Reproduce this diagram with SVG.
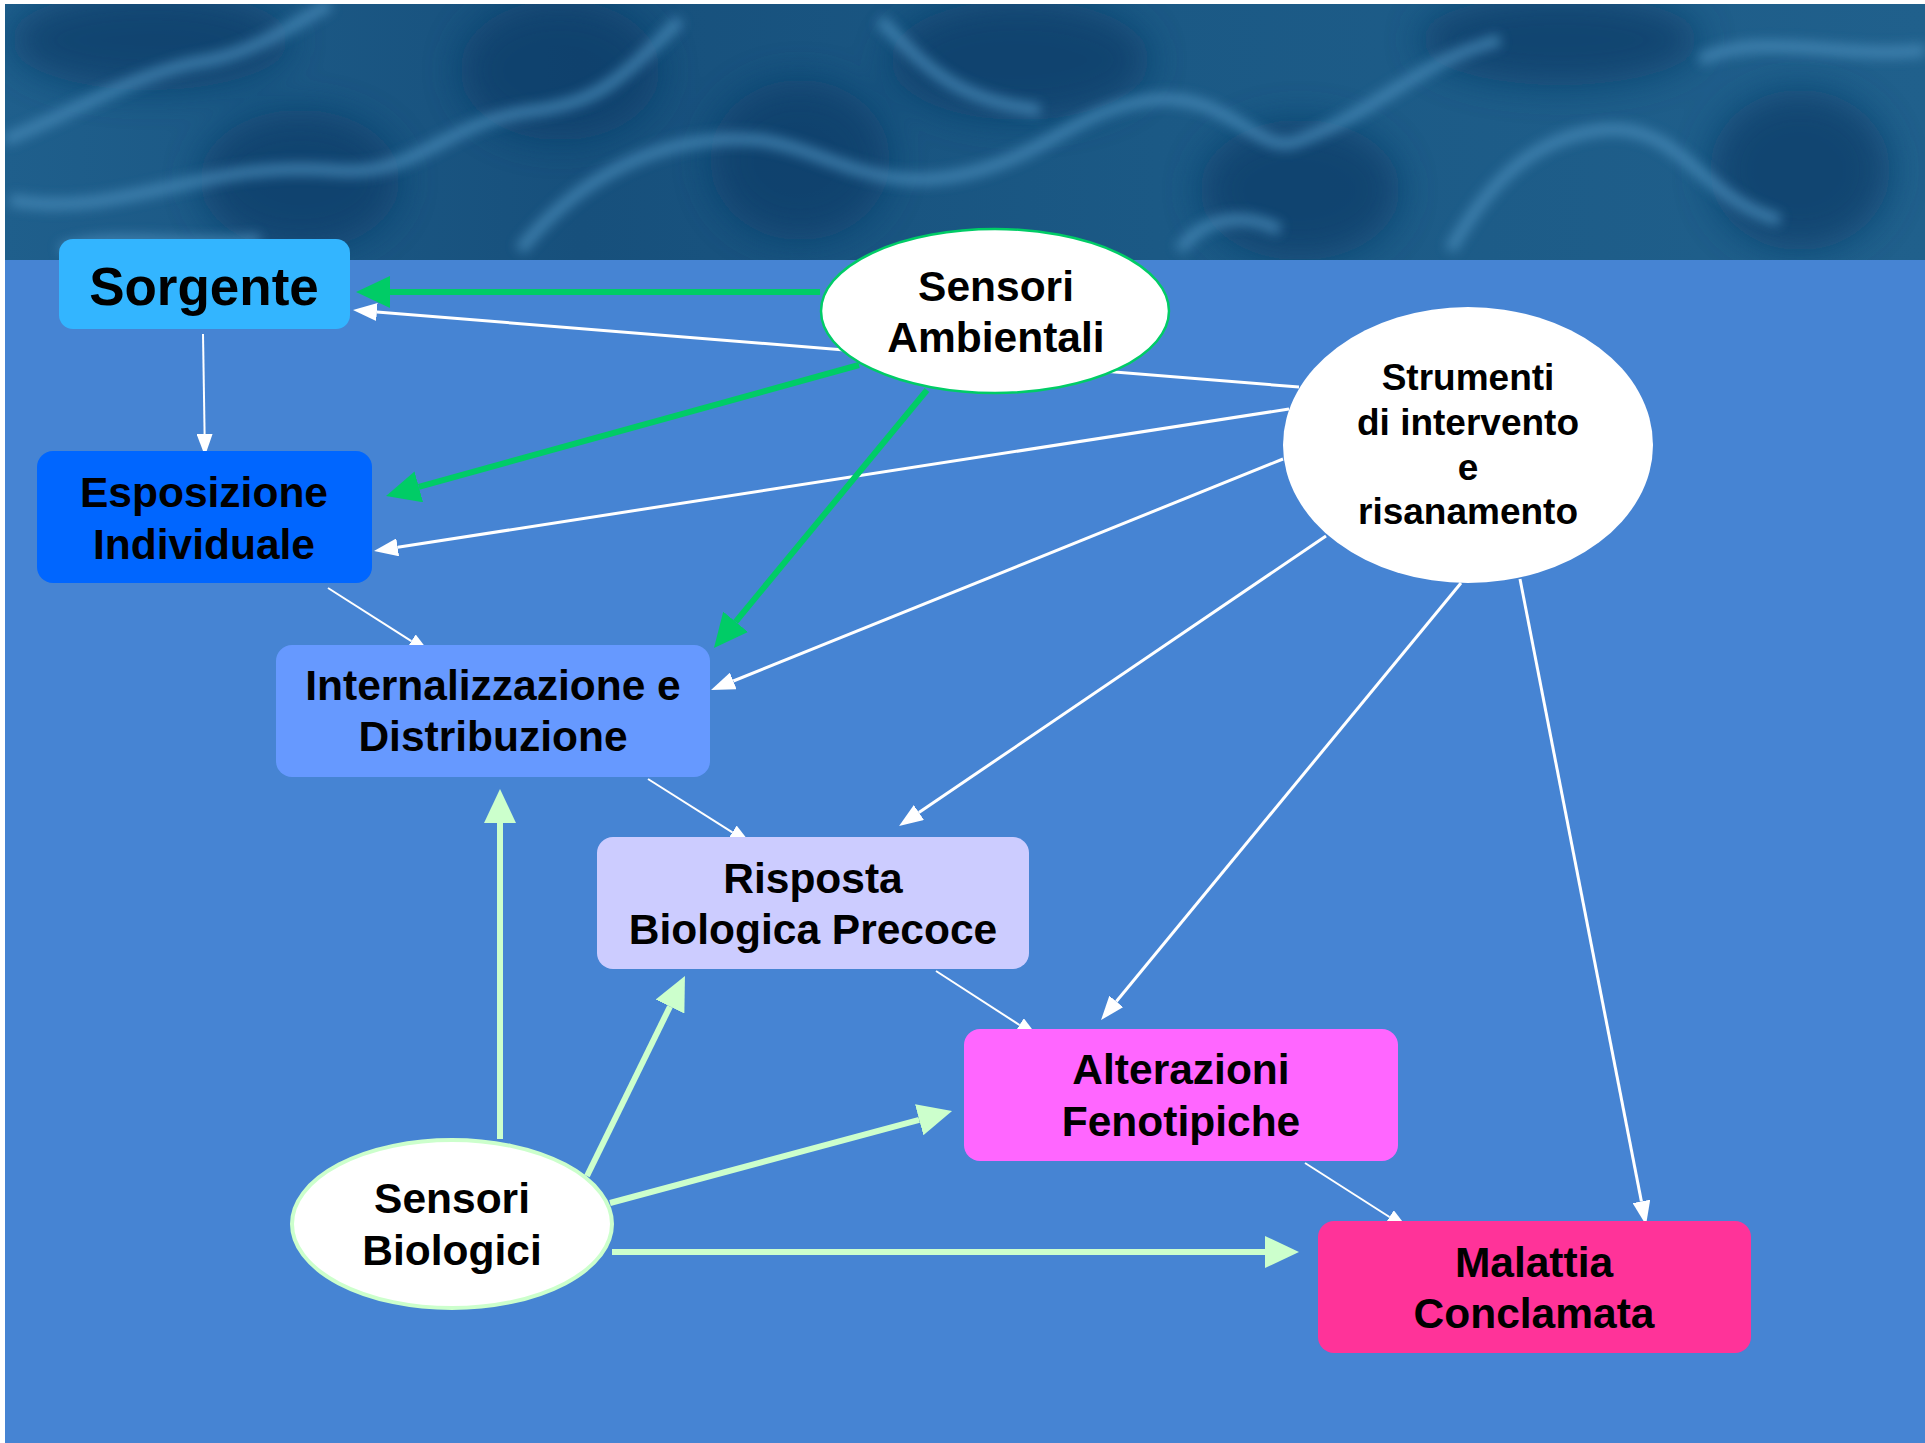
<svg xmlns="http://www.w3.org/2000/svg" width="1925" height="1443" viewBox="0 0 1925 1443">
<style>
.lbl{font-family:"Liberation Sans",Arial,sans-serif;font-weight:bold;fill:#000;text-anchor:middle}
.f41{font-size:42.5px}
.f37{font-size:37px}
.g{stroke:#00CC66;stroke-width:6;fill:none;marker-end:url(#mG)}
.lg{stroke:#CCFFCC;stroke-width:6;fill:none;marker-end:url(#mL)}
.w{stroke:#FFFFFF;stroke-width:3;fill:none;marker-end:url(#mW)}
.ws{stroke:#FFFFFF;stroke-width:2;fill:none;marker-end:url(#mS)}
</style>
<defs>
<marker id="mG" markerUnits="userSpaceOnUse" markerWidth="34" markerHeight="32" refX="0" refY="16" orient="auto"><path d="M0,0 L34,16 L0,32 z" fill="#00CC66"/></marker>
<marker id="mL" markerUnits="userSpaceOnUse" markerWidth="34" markerHeight="32" refX="0" refY="16" orient="auto"><path d="M0,0 L34,16 L0,32 z" fill="#CCFFCC"/></marker>
<marker id="mW" markerUnits="userSpaceOnUse" markerWidth="24" markerHeight="18" refX="0" refY="9" orient="auto"><path d="M0,0 L24,9 L0,18 z" fill="#FFFFFF"/></marker>
<marker id="mS" markerUnits="userSpaceOnUse" markerWidth="22" markerHeight="16" refX="0" refY="8" orient="auto"><path d="M0,0 L22,8 L0,16 z" fill="#FFFFFF"/></marker>
<linearGradient id="water" x1="0" y1="0" x2="1" y2="0">
<stop offset="0" stop-color="#1f5f8c"/>
<stop offset="0.3" stop-color="#17507c"/>
<stop offset="0.6" stop-color="#1b5985"/>
<stop offset="1" stop-color="#20608c"/>
</linearGradient>
<filter id="blur" x="-30%" y="-30%" width="160%" height="160%"><feGaussianBlur stdDeviation="18"/></filter>
<filter id="blur2" x="-20%" y="-20%" width="140%" height="140%"><feGaussianBlur stdDeviation="6"/></filter>
<clipPath id="wclip"><rect x="5" y="4" width="1920" height="256"/></clipPath>
</defs>
<rect x="0" y="0" width="1925" height="1443" fill="#FFFFFF"/>
<rect x="5" y="4" width="1920" height="1439" fill="#4684D3"/>
<g id="water-bg" clip-path="url(#wclip)">
<rect x="5" y="4" width="1920" height="256" fill="url(#water)"/>
<g filter="url(#blur)" fill="#0d3d69" opacity="0.75">
<ellipse cx="150" cy="40" rx="140" ry="50"/>
<ellipse cx="560" cy="70" rx="100" ry="70"/>
<ellipse cx="800" cy="160" rx="90" ry="80"/>
<ellipse cx="1020" cy="60" rx="130" ry="60"/>
<ellipse cx="1300" cy="190" rx="100" ry="70"/>
<ellipse cx="1800" cy="170" rx="90" ry="80"/>
<ellipse cx="1560" cy="40" rx="140" ry="45"/>
<ellipse cx="300" cy="180" rx="100" ry="70"/>
</g>
<g filter="url(#blur2)" fill="none" stroke="#4a8cba" stroke-width="12" opacity="0.75">
<path d="M5,140 C80,110 140,70 210,60 C260,50 300,20 330,4"/>
<path d="M10,200 C120,220 200,160 330,170 C420,180 440,120 540,110 C600,100 620,80 680,20"/>
<path d="M520,250 C560,200 640,130 760,140 C830,150 880,200 980,170 C1050,150 1080,110 1150,100 C1230,90 1260,160 1300,140 C1380,110 1420,60 1500,40"/>
<path d="M880,20 C920,60 950,100 1040,110"/>
<path d="M1450,250 C1480,200 1520,140 1600,130 C1680,120 1700,200 1780,220"/>
<path d="M1700,60 C1760,30 1840,60 1925,50"/>
<path d="M60,250 C120,230 180,250 260,240"/>
<path d="M1180,250 C1200,220 1240,210 1280,230"/>
</g>
</g>
<g id="connectors">
<line class="w" x1="1299" y1="387" x2="376.9" y2="312"/>
<line class="w" x1="1289" y1="409" x2="397.7" y2="547.3"/>
<line class="w" x1="1283" y1="459" x2="733.3" y2="681"/>
<line class="w" x1="1326" y1="536" x2="918.9" y2="812.5"/>
<line class="w" x1="1461" y1="583" x2="1116.3" y2="1001.5"/>
<line class="w" x1="1520" y1="579" x2="1641.4" y2="1201.4"/>
<line class="g" x1="820" y1="292" x2="390" y2="292"/>
<line class="g" x1="859" y1="365" x2="418.8" y2="486.9"/>
<line class="g" x1="927" y1="390" x2="735.6" y2="621.8"/>
<line class="ws" x1="203" y1="334" x2="204.6" y2="434"/>
<line class="ws" x1="328" y1="588" x2="411.4" y2="641.2"/>
<line class="ws" x1="648" y1="779" x2="732.4" y2="832.3"/>
<line class="ws" x1="936" y1="971" x2="1019.5" y2="1025"/>
<line class="ws" x1="1305" y1="1163" x2="1389.5" y2="1217"/>
<line class="lg" x1="500" y1="1139" x2="500" y2="823"/>
<line class="lg" x1="587" y1="1176" x2="670" y2="1006.5"/>
<line class="lg" x1="610" y1="1203" x2="919.2" y2="1119.8"/>
<line class="lg" x1="612" y1="1252" x2="1265" y2="1252"/>
</g>
<g id="sorgente">
<rect x="59" y="239" width="291" height="90" rx="14" fill="#33B5FF"/>
<text class="lbl" x="204" y="305" font-size="53">Sorgente</text>
</g>
<g id="esposizione">
<rect x="37" y="451" width="335" height="132" rx="16" fill="#0066FF"/>
<text class="lbl f41" x="204" y="507">Esposizione</text>
<text class="lbl f41" x="204" y="559">Individuale</text>
</g>
<g id="internalizzazione">
<rect x="276" y="645" width="434" height="132" rx="16" fill="#6699FF"/>
<text class="lbl f41" x="493" y="700">Internalizzazione e</text>
<text class="lbl f41" x="493" y="751">Distribuzione</text>
</g>
<g id="risposta">
<rect x="597" y="837" width="432" height="132" rx="16" fill="#CCCCFF"/>
<text class="lbl f41" x="813" y="893">Risposta</text>
<text class="lbl f41" x="813" y="944">Biologica Precoce</text>
</g>
<g id="alterazioni">
<rect x="964" y="1029" width="434" height="132" rx="16" fill="#FF66FF"/>
<text class="lbl f41" x="1181" y="1084">Alterazioni</text>
<text class="lbl f41" x="1181" y="1136">Fenotipiche</text>
</g>
<g id="malattia">
<rect x="1318" y="1221" width="433" height="132" rx="16" fill="#FF3399"/>
<text class="lbl f41" x="1534" y="1277">Malattia</text>
<text class="lbl f41" x="1534" y="1328">Conclamata</text>
</g>
<g id="sensori-ambientali">
<ellipse cx="995" cy="311" rx="174" ry="82" fill="#FFFFFF" stroke="#00CC66" stroke-width="2.5"/>
<text class="lbl f41" x="996" y="301">Sensori</text>
<text class="lbl f41" x="996" y="352">Ambientali</text>
</g>
<g id="strumenti">
<ellipse cx="1468" cy="445" rx="185" ry="138" fill="#FFFFFF"/>
<text class="lbl f37" x="1468" y="390">Strumenti</text>
<text class="lbl f37" x="1468" y="435">di intervento</text>
<text class="lbl f37" x="1468" y="480">e</text>
<text class="lbl f37" x="1468" y="524">risanamento</text>
</g>
<g id="sensori-biologici">
<ellipse cx="452" cy="1224" rx="160" ry="84" fill="#FFFFFF" stroke="#CCFFCC" stroke-width="4"/>
<text class="lbl f41" x="452" y="1213">Sensori</text>
<text class="lbl f41" x="452" y="1265">Biologici</text>
</g>
</svg>
